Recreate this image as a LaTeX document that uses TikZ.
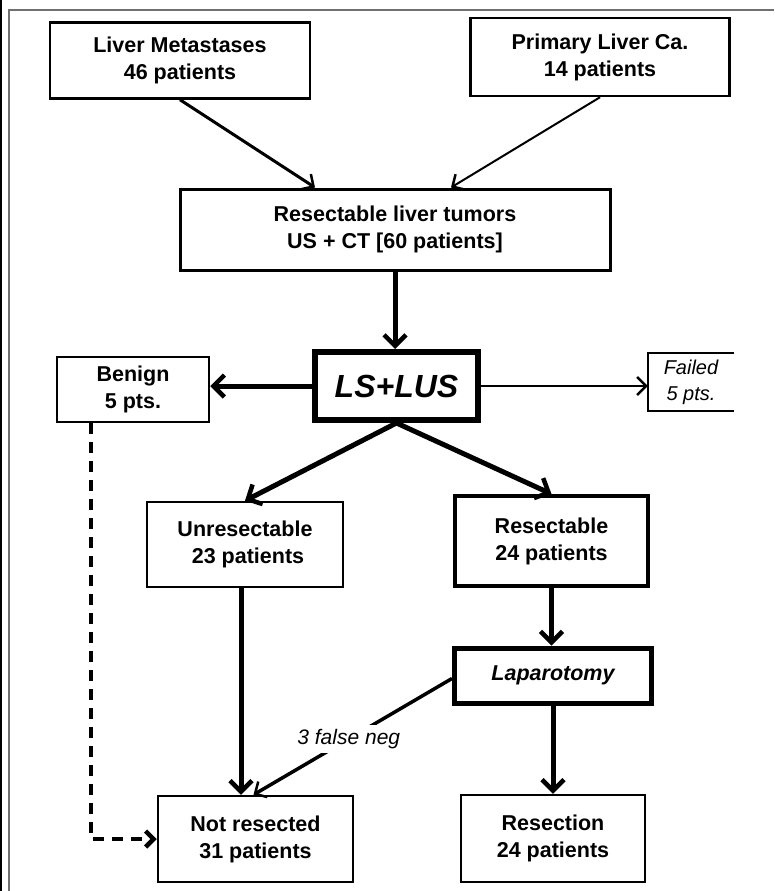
\documentclass[tikz,border=0pt]{standalone}
\usepackage{fontspec}
\setmainfont{Liberation Sans}
\usetikzlibrary{arrows.meta}
\definecolor{frameGray}{HTML}{707070}

\begin{document}
\begin{tikzpicture}[
    x=1pt, y=-1pt,
    box/.style={draw, line width=2.5pt, align=center, inner sep=0pt,
        font=\fontsize{21.5}{27}\selectfont\bfseries},
    heavybox/.style={box, line width=5pt},
    note/.style={font=\fontsize{20}{26}\selectfont\itshape, align=center, inner sep=0pt},
    flow/.style={line width=5pt, -{Straight Barb[length=11pt, width=22pt, line width=4.5pt]}},
    thinflow/.style={line width=2.5pt, -{Straight Barb[length=9pt, width=18pt, line width=2.5pt]}},
]
\useasboundingbox (0,0) rectangle (774,891);
% frame
\draw[line width=2pt] (1,0) -- (1,891);
\draw[frameGray, line width=1.3pt] (774,10) -- (9,10) -- (9,891);

% boxes
\node[box, minimum width=260pt, minimum height=76pt] (met) at (180,60.5) {Liver Metastases\\46 patients};
\node[box, minimum width=259pt, minimum height=78pt] (prim) at (600,57) {Primary Liver Ca.\\14 patients};
\node[box, line width=3pt, minimum width=430pt, minimum height=81pt] (res) at (395,229.5) {Resectable liver tumors\\US + CT [60 patients]};
\node[heavybox, line width=6pt, minimum width=163pt, minimum height=68pt,
    font=\fontsize{32}{36}\selectfont\bfseries\itshape] (lslus) at (396.5,386) {LS+LUS};
\node[box, minimum width=152pt, minimum height=65pt] (benign) at (133,389.5) {Benign\\5 pts.};
\node[note, minimum width=86pt, minimum height=58pt] (failed) at (691,382) {Failed\\5 pts.};
\draw[line width=1.5pt] (failed.north east) -- (failed.north west) -- (failed.south west) -- (failed.south east);
\node[box, minimum width=196pt, minimum height=85pt] (unres) at (245,544.5) {Unresectable\\\ 23 patients};
\node[heavybox, line width=4pt, minimum width=193pt, minimum height=90pt] (resect) at (551.5,541) {Resectable\\24 patients};
\node[heavybox, minimum width=197pt, minimum height=55pt,
    font=\fontsize{21.5}{26}\selectfont\bfseries\itshape] (lap) at (553,675.5) {Laparotomy};
\node[box, minimum width=195pt, minimum height=86pt] (notres) at (255.5,839) {Not resected\\31 patients};
\node[box, minimum width=184pt, minimum height=87pt] (resection) at (553,838.5) {Resection\\24 patients};

% connectors
\draw[thinflow, line width=3pt] (met.south) -- ([xshift=-80pt]res.north);
\draw[thinflow, line width=2pt] (prim.south) -- ([xshift=56pt]res.north);
\draw[flow] (res.south) -- (res.south |- lslus.north);
\draw[flow] (lslus.west) -- (lslus.west -| benign.east);
\draw[thinflow] (lslus.east) -- (lslus.east -| failed.west);
\draw[flow] (lslus.south) -- (unres.north);
\draw[flow] (lslus.south) -- (resect.north);
\draw[flow] ([xshift=-4pt]unres.south) -- ([xshift=-4pt]unres.south |- notres.north);
\draw[flow] (resect.south) -- (resect.south |- lap.north);
\draw[flow] (lap.south) -- (lap.south |- resection.north);
\draw[thinflow, line width=3.5pt] ([yshift=-3pt]lap.west) -- node[pos=0.52, fill=white, inner sep=4pt,
    font=\fontsize{21}{24}\selectfont\itshape] {3 false neg} ([xshift=-2pt]notres.north);
\draw[line width=4.5pt, dash pattern=on 11pt off 8pt,
    -{Straight Barb[length=8pt, width=16pt, line width=4.5pt]}]
    ([xshift=-42pt]benign.south) |- (notres.west);
\end{tikzpicture}
\end{document}
